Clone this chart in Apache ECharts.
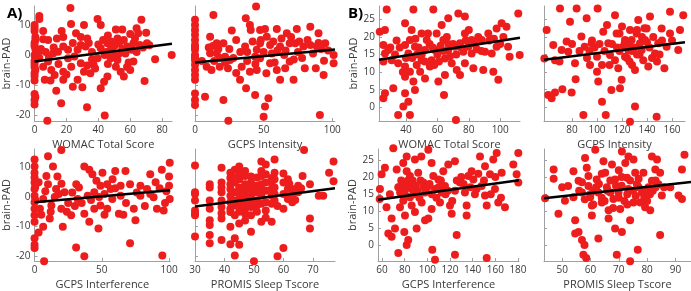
<!DOCTYPE html>
<html>
<head>
<meta charset="utf-8">
<script src="https://cdn.jsdelivr.net/npm/echarts@6/dist/echarts.min.js"></script>
<style>html,body{margin:0;padding:0;background:#fff}#chart{width:691px;height:291px}</style>
</head>
<body>
<div id="chart"></div>
<script>
// A) top left: brain-PAD vs WOMAC
var womacA = [[0,10],[0,8],[0.5,6],[0,4],[0.5,2],[0,0],[0.5,-1],[0,-3],[0.5,-5],[0,-7],[0,-8.5],[0,-13],[0.5,-14],[0,-15],[0,-16.5],[0,9],[0.5,5],[0,3],[0,-2],[0,-4],[0,-6],[1,1],[1,-1.5],[3,13],[3,12],[3,-1],[2.5,1],
  [22.5,15.6],[22.9,10.3],[31,10],[39.5,12],[41.5,10],[51,8.5],[55,8.5],[64,8.9],[67,11.7],[65,7.2],[70,7.4],[17,8],[18,6],[5.4,8],[5.4,5.2],[8.5,5],[26,7.2],[29,6],[33,5.5],[29,3.3],[18,2.8],[21,1.7],[11.6,0.5],[14.7,1.1],[27,1.7],[32,2.8],[41.5,2.2],[45.7,3.9],[47.7,1.7],[53,3.9],[56,5],[58,2.8],[61,1.7],[62,3.9],[66,3.3],[70.5,3.9],[75.6,-1.4],[86,0],[69,-8.7],[62,-2.2],[60,-5],[52,-1.7],[51,-3.9],[54,-5.6],[56,-7.2],[45.7,-7.2],[43.6,-8.9],[39.5,-1.1],[37,-3.3],[35,-6.1],[29,-2.8],[31,-5.6],[27,-8.3],[24,-10.6],[30,-10.8],[18,-8.3],[18,-5.6],[12.6,-6.7],[13.6,-11.9],[16.7,-16.1],[32.9,-17.4],[44,-20.2],[8,-21.9],[5.4,-3.9],[6.4,-8.3],[8.5,-2.2],[10.5,-5],[21,-1.1],[23,-3.9],[41.5,-11.1],[47.7,-1.1],
  [48,4.5],[50,3],[49,0.5],[44,0],[36,1],[34,4],[38,-4.5],[57,0.5],[59,-2.5],[64,1],[68,2.5],[72,3.2],[46,6.5],[43,5],[25,-0.5],[15,-3],[12,2.5],[7,1],[10,-8.5],[20,-6.5],
  [52,5.5],[55,2],[50,-0.5],[46,-3],[58,-4],[63,5.5],[40,3.5],[36,-1.5],[24,4],[14,5.5],[9,-0.5],[4,2],[33,-3.5],[53,0.5],[45,1],[60,7]];
var gcpsIntA = [[0,11.7],[0,10],[0,8.3],[0,6.7],[0,5],[0,3.3],[0,1.7],[0,0],[0,-1.7],[0,-3.3],[0,-5],[0,-6.7],[0,-8.3],[0,-12.8],[0,-15],[0,-16.7],[0,-0.8],[0,2.5],
  [13.4,13.3],[37,12.2],[44.5,16.1],[40,10],[40.6,8.3],[26.8,8.1],[47.4,8.3],[51,8.6],[59.6,8.6],[66.9,7.2],[74.2,8.6],[84,9.4],[90,7.2],[11,6.1],[15.8,3.9],[20.7,3.9],[30,5],[36.5,2.8],[45,1.7],[47.4,3.9],[52.3,6.1],[54.7,3.3],[62,2.8],[69,3.9],[73,3.9],[79,2.8],[84,3.3],[88.8,2.8],[94.9,3.9],[101,0],[101,-2.8],[94,-1.9],[11,0.6],[15.8,0.6],[21.9,-0.6],[25.5,-1.7],[8.5,-3.9],[12,-5],[18,-3.9],[24,-4.4],[34,-3.9],[40,-5.6],[45,-5],[52,-6.1],[54.7,-2.8],[59.6,-5],[62,-8.3],[65.7,-4.4],[69,-2.2],[71.8,-8.3],[80,-4.4],[88,-4.4],[93.7,-6.7],[32.8,-8.3],[37.2,-11.1],[43.8,-13.3],[20.7,-15],[7.3,-13.9],[53.5,-14.4],[51,-17.2],[50,-20.6],[24.3,-21.9],[91,-20],[47.4,-1.1],[43.8,-0.6],
  [25,2],[28,-1],[33,1],[38,-2],[56,0.5],[60,1.5],[65,0],[75,1],[78,-1],[86,0.5],[92,2],[97,1.5],[18,-1],[5,-2],[30,-6],[42,4.5],[70,6],[58,-2.5],
  [13,3],[17,2],[22,-2.5],[14,-2],[10,2.5],[48,5],[50,1],[57,4.5],[63,5.5],[76,4.5],[82,5],[90,4],[66,1.5],[72,-1.5],[44,-3],[38,1]];
var gcpsIntfA = [[0,12.7],[0,10.4],[0,8.2],[0,6.6],[0,4.9],[0,2.7],[0,0.4],[0,-1.8],[0,-4],[0,-6.2],[0,-8.4],[0,-14],[0,-16.2],[0,-17.3],[0.5,-1],[0.5,3.5],
  [10,13.8],[19.9,16],[13.7,10.4],[8.8,7.1],[10,4.3],[16,2.7],[22.3,1.6],[31,4.3],[33,3.2],[37,10.4],[40.7,9.3],[43,7.7],[50.5,8.2],[60,8.8],[67.6,8.8],[49,3.8],[54,4.3],[56.6,2.7],[64,3.8],[71,4.3],[78.7,3.8],[86,7.7],[94.6,9.3],[100.5,11.6],[100,3.8],[100.5,-0.7],[88.5,-0.1],[91,-4],[96,-4.6],[73.8,-4],[75,-7.9],[62.7,-5.7],[57.8,-0.7],[49,-2.9],[54,-4],[44.4,-4],[40.7,-8.4],[37,-5.7],[27.2,-6.2],[19.9,-4],[12.5,-2.9],[6.4,-0.7],[11.3,-7.3],[6.4,-10.1],[21,-10.1],[47.5,-10.7],[71,-15.7],[30.9,-17.1],[37,-20.1],[95,-19.8],[7.1,-21.8],[32,-0.7],[39.5,0.4],[44.4,1.6],[64,0.4],[78.7,0.4],[83.6,2.7],
  [3,5],[4,-4],[15,0],[25,-2],[28,1.5],[35,-2],[46,5.5],[52,1],[58,6],[68,-2],[82,-3],[90,5],[98,2],[100,7],[3,-12],[17,7],
  [8,2],[12,-5],[18,1],[24,-5],[30,-3],[42,-1],[48,0],[52,-6],[60,3],[66,-6],[76,1.5],[86,1],[93,3],[97,-2],[20,4.5],[5,-6]];
var sleepA = [[30,10.7],[30,1.6],[30,1],[30,-1.2],[30,-4.6],[30,-5.7],[30,-6.2],[30,-13.4],
  [35,4.3],[35,3.2],[35,-1.2],[35,-4],[35,-7.9],[35,-12.9],[35,-15.7],
  [39,9.9],[39,4.9],[39,3.2],[39,1.6],[39,-1.2],[39,-3.4],[39,-7.3],[39,-14.6],
  [42,8.2],[42,4.3],[42,2.7],[42,0.4],[42,-1.8],[42,-4],[42,-5.1],[42,-10.1],[42,-16],
  [43.5,9.3],[43.5,6.6],[43.5,4.9],[43.5,1.6],[43.5,-1.2],[43.5,-2.9],[43.5,-6.2],[43.5,-14],[43.5,-19.8],
  [45,10.4],[45,8.2],[45,6],[45,3.2],[45,1],[45,-0.7],[45,-2.9],[45,-9],[45,-16.2],
  [47,8.8],[47,7.1],[47,4.3],[47,2.1],[47,-0.1],[47,-1.8],[47,-4],[47,-5.7],
  [49,4.9],[49,2.7],[49,0.4],[49,-1.2],[49,-3.4],[49,-6.2],[49,-11.8],[50,-21.8],
  [51,6.6],[51,3.8],[51,1.6],[51,-1.2],[51,-2.9],
  [52.5,12.1],[52.5,8.8],[52.5,7.1],[52.5,4.3],[52.5,2.7],[52.5,0.4],[52.5,-2.3],[52.5,-8.4],
  [54,11],[54,7.7],[54,4.9],[54,2.1],[54,-1.8],[54,-4.6],
  [56,4.9],[56,2.7],[56,0.4],[56,-2.3],[56,-8.4],
  [57,12.7],[57,8.2],[57,6],[57,3.2],[57,1],[57,-1.2],[58,-20.1],
  [60,4.9],[60,1],[60,-4],[60,-17.3],[61.5,6],[61.5,2.7],[61.5,-0.7],
  [63,2.7],[63,1],[63,-1.8],[65,3.8],[65,1.6],[66.5,7.1],[67,16],
  [69,4.3],[69,-7.3],[69,-10.7],[72,0.4],[73.5,0.4],[75.5,8.2],[77,12.1],[77,5.4],
  [35,-9.5],[39,-5.5],[42,6.5],[45,-5],[47,-8],[49,7],[51,-5],[54,-7],[56,6.5],[58,-3],[60,8],[62,4.5],[64,-1],[66,3]];

// B) right half
var womacB = [[23.3,21.5],[26.6,22],[27.7,27.8],[25.6,17.7],[28.7,16.3],[26.6,15.3],[25.6,13],[30.9,13.4],[35,12.5],[26.6,4],[25.6,2.6],[31.9,5.4],[39.4,23.9],[43.6,22],[42.5,19.1],[44.7,27.8],[57.4,27.8],[39.4,17.7],[41.5,15.3],[45.7,17.2],[49.9,21],[53.2,19.1],[52.1,16.3],[39.4,11.6],[42.5,10.1],[39.4,8.7],[44.7,7.3],[45.7,4.9],[39.4,4],[38.3,0.2],[41.5,1.6],[35,-2.2],[42.5,-2.2],[52.1,8.2],[49,10.1],[56.3,13.4],[58.4,16.3],[55.2,11.6],[59.5,21],[62.7,23.4],[66.9,25.3],[73.3,26.7],[77.5,25.8],[63.8,19.1],[66.9,16.3],[71.2,17.2],[74.4,18.2],[64.8,13.9],[69.1,12.5],[72.3,10.6],[74.4,9.2],[60.6,7.3],[64.8,9.2],[64.2,3.5],[71.8,-3.6],[77.5,21],[79.7,17.2],[81.8,19.1],[81.8,15.3],[82.9,11.1],[77.5,12.5],[76.5,15.8],[88.2,19.1],[90.3,15.8],[92.4,21],[89.2,10.6],[95.6,10.1],[98.8,7.8],[97.7,22.4],[100.9,23.9],[104,22.9],[111.5,26.7],[105,17.2],[106,14.4],[112.4,14.9],[94.6,15.3],[97.7,17.2],[49.9,13.4],[46.8,12],
  [50,15],[48,17],[55,18],[60,15],[62,17.5],[68,14.5],[70,18],[75,17],[78,19],[85,16.5],[33,15],[36,17],[44,14],[58,12],[66,20],[86,20],[93,19],[100,18],[46,19.5],[38,10],
  [30,17],[34,19],[40,14],[47,15],[52,13],[54,21],[57,17],[61,13],[64,16],[67,18],[72,15],[80,22],[84,18],[88,16],[96,19.5],[102,20]];
var gcpsIntB = [[57.9,13.9],[59.7,22],[61,3.5],[63.7,2.6],[66.4,4.2],[65,17.7],[66.4,13.4],[70.4,28.1],[71.7,16.3],[77,15.8],[72.3,5.1],[79.7,4.2],[78.4,24.3],[75.7,18.7],[82.4,12.5],[82.9,8],[83.7,28.1],[87.5,20.1],[90.1,17.2],[91.7,25.3],[94.4,12],[89.1,-2.2],[95.7,18.2],[100.5,28.1],[100,14.4],[100,10.1],[101,7.3],[104,1.6],[107,-2.2],[105,21.5],[108,23.4],[109,18.2],[110.4,14.9],[111.5,4.9],[114.4,26.2],[115.7,21],[114.4,13.4],[117,11.1],[119.7,7.8],[118.4,5.4],[122.4,19.1],[125,16.3],[126.4,22],[122.4,14.4],[126.4,-4.1],[130.4,0.2],[130.4,10.6],[127.7,19.1],[131.7,21],[134.4,18.2],[135.7,16.3],[133,24.8],[139.7,22.4],[142.4,25.8],[137,13.4],[141,11.6],[146.4,15.3],[149,18.2],[147.7,-2.7],[151.7,22.4],[153.9,11.1],[158.4,27.2],[155.7,17.2],[158.4,21],[165,16.3],[166.4,22],[169,26.2],[145,20],[138.4,19.1],
  [120,17],[124,14],[128,16],[132,15],[136,20],[142,17],[144,14],[118,16],[112,18],[106,16],[98,17],[92,14],[86,16],[150,15],[160,19],[104,12],[96,19],[138,22.5],[128,12],[118,21],
  [122,18],[126,17.5],[130,17],[134,15],[140,18.5],[126,13],[116,17],[110,12],[102,18],[94,16],[80,18],[70,13],[148,13],[152,19],[132,22],[120,23]];
var gcpsIntfB = [[58.2,16.5],[59.7,20.8],[62.6,22.7],[64,11.2],[67,15],[65.6,3.5],[68.5,2.6],[70,28.4],[68.5,7.9],[71.5,5],[74.4,-2.2],[73,22.2],[78.8,24.1],[74.4,17],[77.4,15],[80.3,18.4],[78.8,13.1],[75.9,11.2],[80.3,8.8],[79.7,4],[81.8,0.2],[83.2,1.6],[81.8,26],[81.8,21.7],[84.7,20.3],[86.2,16.5],[84.7,14.1],[86.2,11.7],[89.1,9.8],[90.6,5],[89.1,25.1],[94.7,26],[92,21.3],[96.5,18.4],[98,15.5],[95,12.6],[100.9,28],[98,7.4],[100.9,7.9],[103.8,24.1],[105.3,20.3],[106.8,16.5],[103.8,10.7],[104.4,-1.2],[106.8,-4.1],[109.7,19.3],[112.6,15.5],[111.2,12.6],[115.6,17.4],[114.1,21.7],[118.5,23.7],[120,11.7],[121.5,9.3],[124.4,24.6],[124.4,16],[125.9,3.1],[124.4,-2.7],[128.8,18.4],[133.2,15.5],[134.7,11.7],[134.7,8.8],[136.2,20.3],[139.1,21.7],[140.6,19.3],[143.5,16.5],[146.5,26],[147.9,17.4],[150.9,23.2],[150.9,14.6],[152.4,-3.6],[152.4,11.7],[155.3,20.8],[158.2,25.1],[159.7,16.5],[161.2,27],[162.6,12.6],[168.5,11.2],[175.9,23.7],[180.3,27],[180.3,18.4],[178.8,20.8],[165.6,21.3],[58,13.6],
  [75,17],[78,18],[80,16],[82,17],[77,19],[85,18],[88,15],[90,17.5],[93,14],[97,17],[102,18],[108,14],[110,17],[116,15],[122,13],[130,20],[138,17],[145,21],[160,20],[165,14],
  [76,15.5],[79,16.5],[81,14.5],[83,19],[87,19],[91,16],[94,19],[100,17],[104,15],[112,19],[118,16],[126,19],[132,18],[142,15],[150,19],[156,15]];
var sleepB = [[44,13.8],[47,22.2],[47,19.5],[48.7,9.3],[50,17],[51,13.1],[52.1,17.4],[54,21.7],[54,14.1],[54.6,7.4],[54.6,3.5],[55.8,4],[55.8,18.9],[57,15.5],[57,1.6],[57.9,0.2],[57.5,-2.7],[58.5,-3.6],[58.1,25.6],[58.7,22.7],[59.3,20.3],[59.3,17.4],[59.9,14.1],[60.5,11.7],[60.5,8.8],[61.7,28],[62.2,19.3],[62.8,15.5],[62.8,2.1],[64,12.6],[64.6,24.6],[65.2,21.3],[65.8,17],[66.4,7.9],[67.6,23.7],[68.1,13.6],[68.7,5],[68.7,19.3],[69.3,-2.7],[69.9,15.5],[71.1,27.5],[70.5,10.7],[72.3,24.1],[72.9,19.8],[73.4,26],[73.4,16.5],[74,7.4],[74,-4.6],[75.2,25.1],[75.2,12.6],[75.8,21.3],[76.4,17.9],[76.7,-1.2],[77.6,12.6],[78.2,15.5],[78.7,21.3],[79.3,11.2],[80.5,17],[81.1,10.3],[81.7,26],[81.7,18.9],[82.9,22.2],[83.5,25.1],[84,17.9],[84.6,21.3],[84.6,3.1],[85.2,14.6],[88.2,17],[91.1,14.6],[92.3,22.2],[93.2,26.5],[92.3,13.6],[66.4,10.3],[71.1,4],
  [62,17],[64,14],[66,16],[67,19],[68,11],[70,14],[71,17.5],[72,13],[73,15],[74,19],[76,14.5],[77,17],[79,16],[80,13],[82,16],[83,19],[86,17],[60,15],[58,13.5],[57,18.5],
  [61,16],[63,18],[65,13],[67,15.5],[69,17.5],[71,20],[73,12],[75,16],[77,19.5],[79,14],[81,15],[83,17],[64,21],[70,22],[61,12],[56,16]];

// fitted lines (end points)
var fitWomacA = [[0,-2.2],[86.2,3.7]];
var fitGcpsIntA = [[0,-2.5],[102,1.8]];
var fitGcpsIntfA = [[0,-1.8],[100.7,2.3]];
var fitSleepA = [[30,-3.2],[77.5,3.0]];
var fitWomacB = [[22.8,13.5],[112.6,19.8]];
var fitGcpsIntB = [[57.6,13.5],[170.4,18.5]];
var fitGcpsIntfB = [[56.5,13.4],[180.9,19.1]];
var fitSleepB = [[43.6,13.8],[95.5,18.6]];

// tick labels
var ticksPadA = [-20, -10, 0, 10];
var ticksPadB = [0, 5, 10, 15, 20, 25];
var ticksWomacA = [0, 20, 40, 60, 80];
var ticksGcpsIntA = [0, 50, 100];
var ticksGcpsIntfA = [0, 50, 100];
var ticksSleepA = [30, 40, 50, 60, 70];
var ticksWomacB = [40, 60, 80, 100];
var ticksGcpsIntB = [80, 100, 120, 140, 160];
var ticksGcpsIntfB = [60, 80, 100, 120, 140, 160, 180];
var ticksSleepB = [50, 60, 70, 80, 90];

var chart = echarts.init(document.getElementById('chart'));
var FONT = 'Open Sans';
var AXC = '#a0a0a0';
var TXT = '#3a3a3a';

var panels = [
  {data: womacA, fit: fitWomacA, name: 'WOMAC Total Score', grid: {left: 33, top: 6, width: 139, height: 115}, x: [0, 86.2], y: [-22, 16.3], xt: ticksWomacA, yt: ticksPadA, ylab: true},
  {data: gcpsIntA, fit: fitGcpsIntA, name: 'GCPS Intensity', grid: {left: 195, top: 6, width: 140, height: 115}, x: [0, 102], y: [-22, 16.3], xt: ticksGcpsIntA, yt: ticksPadA, ylab: false},
  {data: womacB, fit: fitWomacB, name: 'WOMAC Total Score', grid: {left: 379, top: 6, width: 141, height: 115}, x: [22.8, 112.6], y: [-3.9, 28.8], xt: ticksWomacB, yt: ticksPadB, ylab: true},
  {data: gcpsIntB, fit: fitGcpsIntB, name: 'GCPS Intensity', grid: {left: 544, top: 6, width: 141, height: 115}, x: [57.6, 170.4], y: [-3.9, 28.8], xt: ticksGcpsIntB, yt: ticksPadB, ylab: false},
  {data: gcpsIntfA, fit: fitGcpsIntfA, name: 'GCPS Interference', grid: {left: 33, top: 149, width: 137, height: 114}, x: [0, 100.7], y: [-21.7, 16.3], xt: ticksGcpsIntfA, yt: ticksPadA, ylab: true},
  {data: sleepA, fit: fitSleepA, name: 'PROMIS Sleep Tscore', grid: {left: 195, top: 149, width: 140, height: 114}, x: [30, 77.5], y: [-21.7, 16.3], xt: ticksSleepA, yt: ticksPadA, ylab: false},
  {data: gcpsIntfB, fit: fitGcpsIntfB, name: 'GCPS Interference', grid: {left: 378, top: 149, width: 141, height: 114}, x: [56.5, 180.9], y: [-4.5, 28.2], xt: ticksGcpsIntfB, yt: ticksPadB, ylab: true},
  {data: sleepB, fit: fitSleepB, name: 'PROMIS Sleep Tscore', grid: {left: 544, top: 149, width: 147, height: 114}, x: [43.6, 95.5], y: [-4.5, 28.2], xt: ticksSleepB, yt: ticksPadB, ylab: false}
];

var grids = [], xAxes = [], yAxes = [], series = [];
panels.forEach(function (p, i) {
    grids.push(p.grid);
    xAxes.push({
        type: 'value', gridIndex: i, min: p.x[0], max: p.x[1],
        name: p.name, nameLocation: 'middle', nameGap: 18,
        nameTextStyle: {fontFamily: FONT, fontSize: 11, color: TXT},
        axisLine: {show: true, onZero: false, lineStyle: {color: AXC}},
        axisTick: {show: true, inside: true, length: 3, customValues: p.xt, lineStyle: {color: AXC}},
        axisLabel: {customValues: p.xt, fontFamily: FONT, fontSize: 10, color: TXT, margin: 4},
        splitLine: {show: false}
    });
    yAxes.push({
        type: 'value', gridIndex: i, min: p.y[0], max: p.y[1],
        name: p.ylab ? 'brain-PAD' : '', nameLocation: 'middle', nameGap: p.ylab && i < 4 && i > 1 ? 16 : 19,
        nameTextStyle: {fontFamily: FONT, fontSize: 11, color: TXT},
        axisLine: {show: true, onZero: false, lineStyle: {color: AXC}},
        axisTick: {show: true, inside: true, length: 3, customValues: p.yt, lineStyle: {color: AXC}},
        axisLabel: {show: p.ylab, customValues: p.yt, fontFamily: FONT, fontSize: 10, color: TXT, margin: 4},
        splitLine: {show: false}
    });
    series.push({
        type: 'scatter', xAxisIndex: i, yAxisIndex: i, data: p.data,
        symbolSize: 8, clip: false, silent: true,
        itemStyle: {color: '#ee1d1d', opacity: 1}
    });
    series.push({
        type: 'line', xAxisIndex: i, yAxisIndex: i, data: p.fit,
        symbol: 'none', z: 5, silent: true,
        lineStyle: {color: '#000', width: 2.5}
    });
});

chart.setOption({
    animation: false,
    title: [
        {text: 'A)', left: 2, top: 1, textStyle: {fontFamily: FONT, fontSize: 15, fontWeight: 'bold', color: '#000'}},
        {text: 'B)', left: 343, top: 1, textStyle: {fontFamily: FONT, fontSize: 15, fontWeight: 'bold', color: '#000'}}
    ],
    grid: grids,
    xAxis: xAxes,
    yAxis: yAxes,
    series: series
});
</script>
</body>
</html>
